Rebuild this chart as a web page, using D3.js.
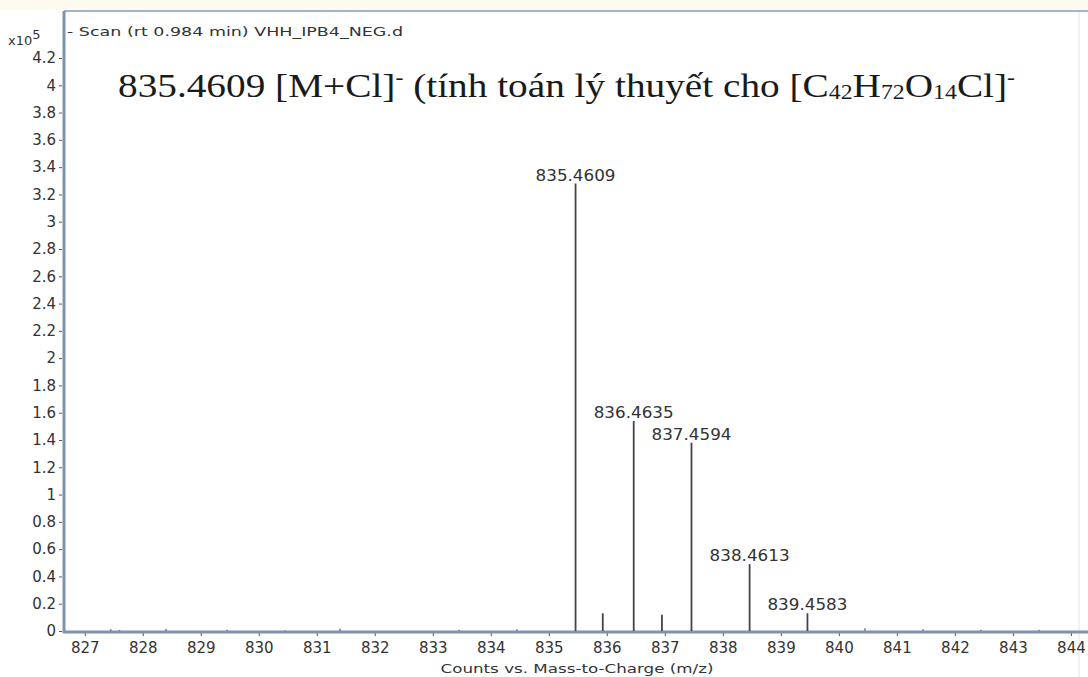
<!DOCTYPE html>
<html>
<head>
<meta charset="utf-8">
<script src="https://cdn.jsdelivr.net/npm/d3@7"></script>
<style>
  html, body { margin: 0; padding: 0; background: #ffffff; }
  svg { display: block; }
</style>
</head>
<body>
<svg id="chart" width="1088" height="677"></svg>
<script>
// Labelled isotope peaks of the [M+Cl]- cluster (m/z, counts ×10^5)
const peakMz     = [835.4609, 836.4635, 837.4594, 838.4613, 839.4583];
const peakCounts = [3.28, 1.54, 1.38, 0.49, 0.13];
const peakLabels = ["835.4609", "836.4635", "837.4594", "838.4613", "839.4583"];

// Unlabelled minor signals
const minorMz     = [835.93, 836.95];
const minorCounts = [0.13, 0.12];

// Baseline noise
const noiseMz     = [827.45, 827.6, 828.4, 829.45, 830.45, 831.4, 833.45, 834.45, 840.45, 841.45, 842.45, 843.45];
const noiseCounts = [0.012, 0.008, 0.014, 0.01, 0.006, 0.016, 0.01, 0.012, 0.02, 0.012, 0.01, 0.01];

const xTicks = [827, 828, 829, 830, 831, 832, 833, 834, 835, 836, 837, 838, 839, 840, 841, 842, 843, 844];
const yTicks = [0, 0.2, 0.4, 0.6, 0.8, 1, 1.2, 1.4, 1.6, 1.8, 2, 2.2, 2.4, 2.6, 2.8, 3, 3.2, 3.4, 3.6, 3.8, 4, 4.2];

const svg = d3.select("#chart");
const W = 1088, H = 677;
const pLeft = 64, pRight = 1086, pTop = 11, pBottom = 631;

// window strip above the plot frame
svg.append("rect").attr("x", 0).attr("y", 0).attr("width", W).attr("height", pTop - 1)
  .attr("fill", "#fdfbf0");

const x = d3.scaleLinear().domain([826.66, 844.26]).range([pLeft + 1, pRight]);
const y = d3.scaleLinear().domain([0, 4.2]).range([pBottom, 58]);

// frame top line and faint right edge
svg.append("line").attr("x1", pLeft).attr("x2", W).attr("y1", pTop).attr("y2", pTop)
  .attr("stroke", "#a3b3ca").attr("stroke-width", 2);
svg.append("line").attr("x1", 1079).attr("x2", 1079).attr("y1", pTop + 1).attr("y2", H)
  .attr("stroke", "#eef2f8").attr("stroke-width", 2);

const axisFont = "'DejaVu Sans', Verdana, sans-serif";

// stretch a text element horizontally so it spans the given width
function fitWidth(sel, width) {
  sel.attr("textLength", width).attr("lengthAdjust", "spacingAndGlyphs");
}

// Y axis
const yAxis = svg.append("g").attr("transform", `translate(${pLeft - 2},0)`)
  .call(d3.axisLeft(y).tickValues(yTicks).tickSize(3).tickPadding(3)
    .tickFormat(d => d3.format("~g")(d)));
yAxis.select(".domain").remove();
yAxis.selectAll("text").attr("font-family", axisFont).attr("font-size", 15).attr("fill", "#333");
yAxis.selectAll("line").attr("stroke", "#555");
svg.append("line").attr("x1", pLeft).attr("x2", pLeft).attr("y1", pTop).attr("y2", pBottom + 2)
  .attr("stroke", "#7f93ad").attr("stroke-width", 3);

// X axis
const xAxis = svg.append("g").attr("transform", `translate(0,${pBottom + 2})`)
  .call(d3.axisBottom(x).tickValues(xTicks).tickSize(3).tickPadding(6).tickFormat(d3.format("d")));
xAxis.select(".domain").remove();
xAxis.selectAll("text").attr("font-family", axisFont).attr("font-size", 15).attr("fill", "#333");
xAxis.selectAll("line").attr("stroke", "#555");
svg.append("line").attr("x1", pLeft - 1).attr("x2", W).attr("y1", pBottom + 1).attr("y2", pBottom + 1)
  .attr("stroke", "#7f93ad").attr("stroke-width", 3);

// multiplier label
const mult = svg.append("text").attr("x", 8).attr("y", 45)
  .attr("font-family", axisFont).attr("font-size", 13).attr("fill", "#333");
mult.append("tspan").text("x10");
mult.append("tspan").attr("dy", -6).attr("font-size", 13).text("5");

// scan title
const scanTitle = svg.append("text").attr("x", 67).attr("y", 36)
  .attr("font-family", axisFont).attr("font-size", 13).attr("fill", "#333")
  .text("- Scan (rt 0.984 min) VHH_IPB4_NEG.d");
fitWidth(scanTitle, 336);

// stick peaks
const stickColor = "#444";
svg.append("g").selectAll("line").data(noiseMz.map((m, i) => [m, noiseCounts[i]])).join("line")
  .attr("x1", d => x(d[0])).attr("x2", d => x(d[0]))
  .attr("y1", y(0)).attr("y2", d => y(d[1]))
  .attr("stroke", "#6a7a90").attr("stroke-width", 1.5);

svg.append("g").selectAll("line").data(minorMz.map((m, i) => [m, minorCounts[i]])).join("line")
  .attr("x1", d => x(d[0])).attr("x2", d => x(d[0]))
  .attr("y1", y(0)).attr("y2", d => y(d[1]))
  .attr("stroke", stickColor).attr("stroke-width", 1.8);

const peaks = peakMz.map((m, i) => ({ mz: m, v: peakCounts[i], label: peakLabels[i] }));
svg.append("g").selectAll("line").data(peaks).join("line")
  .attr("x1", d => x(d.mz)).attr("x2", d => x(d.mz))
  .attr("y1", y(0)).attr("y2", d => y(d.v))
  .attr("stroke", stickColor).attr("stroke-width", 1.8);

svg.append("g").selectAll("text").data(peaks).join("text")
  .attr("x", d => x(d.mz)).attr("y", d => y(d.v) - 3)
  .attr("text-anchor", "middle")
  .attr("font-family", axisFont).attr("font-size", 15.5).attr("fill", "#333")
  .attr("textLength", 80).attr("lengthAdjust", "spacingAndGlyphs")
  .text(d => d.label);

// x-axis title
const xTitle = svg.append("text").attr("x", 577).attr("y", 673).attr("text-anchor", "middle")
  .attr("font-family", axisFont).attr("font-size", 13).attr("fill", "#333")
  .text("Counts vs. Mass-to-Charge (m/z)");
fitWidth(xTitle, 273);

// annotation with formula, set in a widened serif face
const serif = "'Liberation Serif', 'Times New Roman', serif";
const annX = 118, annY = 97;
const ann = svg.append("text").attr("x", 0).attr("y", 0)
  .attr("transform", `translate(${annX},${annY}) scale(1.18,1)`)
  .attr("font-family", serif).attr("font-size", 33).attr("fill", "#1a1a1a");
const parts = [
  ["835.4609 [M+Cl]", 0], ["-", "sup"], [" (tính toán lý thuyết cho [C", 0],
  ["42", "sub"], ["H", 0], ["72", "sub"], ["O", 0], ["14", "sub"], ["Cl]", 0], ["-", "sup"]
];
let shift = 0;
parts.forEach(([t, kind]) => {
  const target = kind === "sup" ? -13 : kind === "sub" ? 2 : 0;
  const s = ann.append("tspan").attr("dy", target - shift).text(t);
  if (kind) s.attr("font-size", 20);
  shift = target;
});
// fit the annotation to its span
const bb = ann.node().getBBox();
const targetWidth = 1015 - annX;
ann.attr("transform", `translate(${annX},${annY}) scale(${targetWidth / bb.width},1)`);
</script>
</body>
</html>
